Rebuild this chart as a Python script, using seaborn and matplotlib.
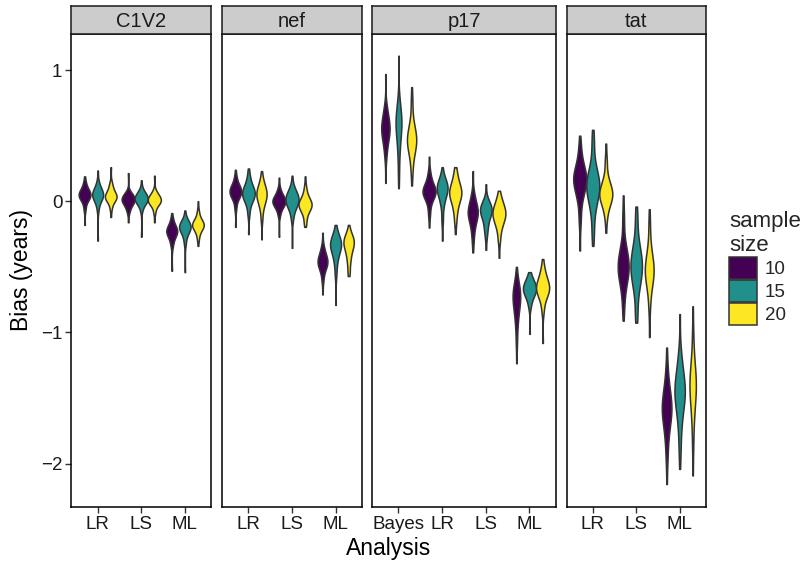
import matplotlib
matplotlib.use('Agg')
import matplotlib.pyplot as plt
import seaborn as sns
import pandas as pd
from matplotlib.patches import Patch

# facet / category setup
genes = ['C1V2', 'nef', 'p17', 'tat']
gene_analyses = {
    'C1V2': ['LR', 'LS', 'ML'],
    'nef': ['LR', 'LS', 'ML'],
    'p17': ['Bayes', 'LR', 'LS', 'ML'],
    'tat': ['LR', 'LS', 'ML'],
}
sizes = ['10', '15', '20']
size_colors = ['#440154', '#21908C', '#FDE725']

# bias levels, one list per sample size (10, 15, 20):
# lowest value, lower body edge, ..., upper body edge, highest value
c1v2_lr = [[-0.18, -0.06, 0.0, 0.03, 0.05, 0.07, 0.10, 0.14, 0.19],
           [-0.30, -0.06, 0.0, 0.03, 0.05, 0.07, 0.10, 0.14, 0.235],
           [-0.12, -0.05, 0.0, 0.02, 0.04, 0.06, 0.10, 0.14, 0.26]]
c1v2_ls = [[-0.16, -0.08, -0.04, -0.01, 0.01, 0.03, 0.05, 0.07, 0.215],
           [-0.27, -0.065, -0.02, 0.0, 0.02, 0.04, 0.06, 0.09, 0.16],
           [-0.16, -0.08, -0.03, -0.01, 0.01, 0.03, 0.05, 0.08, 0.195]]
c1v2_ml = [[-0.53, -0.34, -0.29, -0.25, -0.23, -0.21, -0.18, -0.14, -0.09],
           [-0.54, -0.32, -0.26, -0.22, -0.20, -0.18, -0.16, -0.13, -0.07],
           [-0.34, -0.28, -0.23, -0.20, -0.18, -0.16, -0.13, -0.08, 0.0]]

nef_lr = [[-0.195, -0.05, 0.02, 0.05, 0.075, 0.10, 0.13, 0.18, 0.24],
          [-0.25, -0.09, -0.01, 0.03, 0.06, 0.09, 0.13, 0.19, 0.25],
          [-0.29, -0.13, -0.04, 0.01, 0.05, 0.08, 0.12, 0.165, 0.23]]
nef_ls = [[-0.27, -0.10, -0.05, -0.02, 0.0, 0.02, 0.05, 0.09, 0.18],
          [-0.355, -0.13, -0.06, -0.02, 0.01, 0.04, 0.07, 0.11, 0.195],
          [-0.195, -0.155, -0.09, -0.05, -0.025, 0.0, 0.04, 0.10, 0.19]]
nef_ml = [[-0.71, -0.60, -0.53, -0.49, -0.46, -0.43, -0.39, -0.345, -0.24],
          [-0.79, -0.55, -0.45, -0.38, -0.34, -0.31, -0.28, -0.24, -0.18],
          [-0.57, -0.535, -0.45, -0.38, -0.33, -0.30, -0.27, -0.24, -0.18]]

p17_bayes = [[0.14, 0.34, 0.43, 0.50, 0.55, 0.60, 0.66, 0.72, 0.97],
             [0.10, 0.215, 0.38, 0.50, 0.58, 0.63, 0.70, 0.77, 1.11],
             [0.12, 0.24, 0.35, 0.42, 0.47, 0.52, 0.60, 0.75, 0.87]]
p17_lr = [[-0.20, -0.09, 0.0, 0.05, 0.075, 0.10, 0.15, 0.215, 0.34],
          [-0.30, -0.14, -0.02, 0.05, 0.09, 0.12, 0.15, 0.19, 0.26],
          [-0.25, -0.14, -0.05, 0.02, 0.06, 0.10, 0.15, 0.215, 0.26]]
p17_ls = [[-0.39, -0.29, -0.20, -0.13, -0.09, -0.05, 0.0, 0.06, 0.23],
          [-0.37, -0.26, -0.19, -0.12, -0.08, -0.05, -0.02, 0.01, 0.13],
          [-0.43, -0.29, -0.20, -0.14, -0.10, -0.06, -0.02, 0.03, 0.08]]
p17_ml = [[-1.235, -1.06, -0.92, -0.82, -0.75, -0.70, -0.65, -0.60, -0.50],
          [-1.01, -0.80, -0.74, -0.70, -0.67, -0.64, -0.61, -0.575, -0.54],
          [-1.08, -0.83, -0.74, -0.69, -0.66, -0.62, -0.57, -0.51, -0.44]]

tat_lr = [[-0.375, -0.14, 0.02, 0.11, 0.165, 0.21, 0.28, 0.39, 0.50],
          [-0.34, -0.22, -0.05, 0.05, 0.115, 0.17, 0.26, 0.44, 0.545],
          [-0.24, -0.115, -0.03, 0.02, 0.06, 0.10, 0.17, 0.30, 0.44]]
tat_ls = [[-0.91, -0.78, -0.64, -0.56, -0.495, -0.43, -0.34, -0.14, 0.045],
          [-0.925, -0.85, -0.67, -0.57, -0.495, -0.42, -0.32, -0.14, -0.04],
          [-1.035, -0.80, -0.66, -0.58, -0.52, -0.46, -0.36, -0.19, -0.06]]
tat_ml = [[-2.155, -1.945, -1.78, -1.66, -1.585, -1.51, -1.42, -1.285, -1.115],
          [-2.04, -1.87, -1.68, -1.54, -1.46, -1.38, -1.28, -1.16, -0.86],
          [-2.09, -1.845, -1.64, -1.50, -1.41, -1.33, -1.22, -1.03, -0.80]]

# how many replicate runs sit at each of the nine levels above
runs_per_level = [1, 3, 5, 7, 8, 7, 5, 3, 1]

bias_lists = {
    ('C1V2', 'LR'): c1v2_lr, ('C1V2', 'LS'): c1v2_ls, ('C1V2', 'ML'): c1v2_ml,
    ('nef', 'LR'): nef_lr, ('nef', 'LS'): nef_ls, ('nef', 'ML'): nef_ml,
    ('p17', 'Bayes'): p17_bayes, ('p17', 'LR'): p17_lr, ('p17', 'LS'): p17_ls, ('p17', 'ML'): p17_ml,
    ('tat', 'LR'): tat_lr, ('tat', 'LS'): tat_ls, ('tat', 'ML'): tat_ml,
}

rows = []
for (gene, analysis), per_size in bias_lists.items():
    for size, vals in zip(sizes, per_size):
        for v, n in zip(vals, runs_per_level):
            rows += [{'gene': gene, 'Analysis': analysis, 'size': size, 'bias': v}] * n
df = pd.DataFrame(rows)

sns.set_style('white')
plt.rcParams['font.family'] = ['Liberation Sans', 'DejaVu Sans']

W, H = 803, 563
fig = plt.figure(figsize=(W / 100, H / 100), dpi=100)

# panel edges in pixels (left, right); free x space like facet_grid(space='free_x')
panel_x = [(71.5, 211.0), (222.3, 361.7), (372.3, 555.7), (566.7, 705.7)]
top_px, bottom_px, strip_top = 34.0, 507.0, 5.5
ink = '#333333'

for i, gene in enumerate(genes):
    x0, x1 = panel_x[i]
    ax = fig.add_axes([x0 / W, (H - bottom_px) / H, (x1 - x0) / W, (bottom_px - top_px) / H])
    sub = df[df['gene'] == gene]
    order = gene_analyses[gene]
    sns.violinplot(data=sub, x='Analysis', y='bias', hue='size', order=order,
                   hue_order=sizes, palette=size_colors, saturation=1,
                   cut=0, inner=None, width=0.9, density_norm='area',
                   bw_adjust=1.0, gridsize=200, linecolor=ink, linewidth=1.1,
                   legend=False, ax=ax)
    ax.set_xlim(-0.6, len(order) - 0.4)
    ax.set_ylim(-2.33, 1.275)
    ax.set_xlabel('')
    ax.set_ylabel('')
    for s in ax.spines.values():
        s.set_color('black')
        s.set_linewidth(1.1)
    ax.tick_params(axis='x', length=4, width=1, color=ink, labelsize=13.5,
                   labelcolor='#1a1a1a', pad=2.5, bottom=True)
    ax.set_yticks([-2, -1, 0, 1])
    if i == 0:
        ax.tick_params(axis='y', length=4, width=1, color=ink, labelsize=13.5,
                       labelcolor='#1a1a1a', pad=2.5, left=True)
    else:
        ax.tick_params(axis='y', left=False, labelleft=False)

    # strip on top of each panel
    sax = fig.add_axes([x0 / W, (H - top_px) / H, (x1 - x0) / W, (top_px - strip_top) / H])
    sax.set_facecolor('#cccccc')
    sax.set_xticks([])
    sax.set_yticks([])
    for s in sax.spines.values():
        s.set_color('#1a1a1a')
        s.set_linewidth(1.1)
    sax.text(0.5, 0.45, gene, ha='center', va='center', fontsize=14.5, color='#1a1a1a',
             transform=sax.transAxes)

fig.text(22 / W, (H - 270.5) / H, 'Bias (years)', rotation=90, ha='center', va='center',
         fontsize=16.5, color='black')
fig.text(388.6 / W, (H - 549) / H, 'Analysis', ha='center', va='center',
         fontsize=16.5, color='black')

handles = [Patch(facecolor=c, edgecolor=ink, linewidth=1.1, label=s)
           for s, c in zip(sizes, size_colors)]
fig.legend(handles=handles, title='sample\nsize', loc='upper left',
           bbox_to_anchor=(722 / W, (H - 203) / H), frameon=False,
           fontsize=13.5, title_fontsize=16, alignment='left',
           handlelength=1.45, handleheight=1.45, labelspacing=0.05,
           handletextpad=0.45, borderaxespad=0)

fig.savefig('out.png', dpi=100)
